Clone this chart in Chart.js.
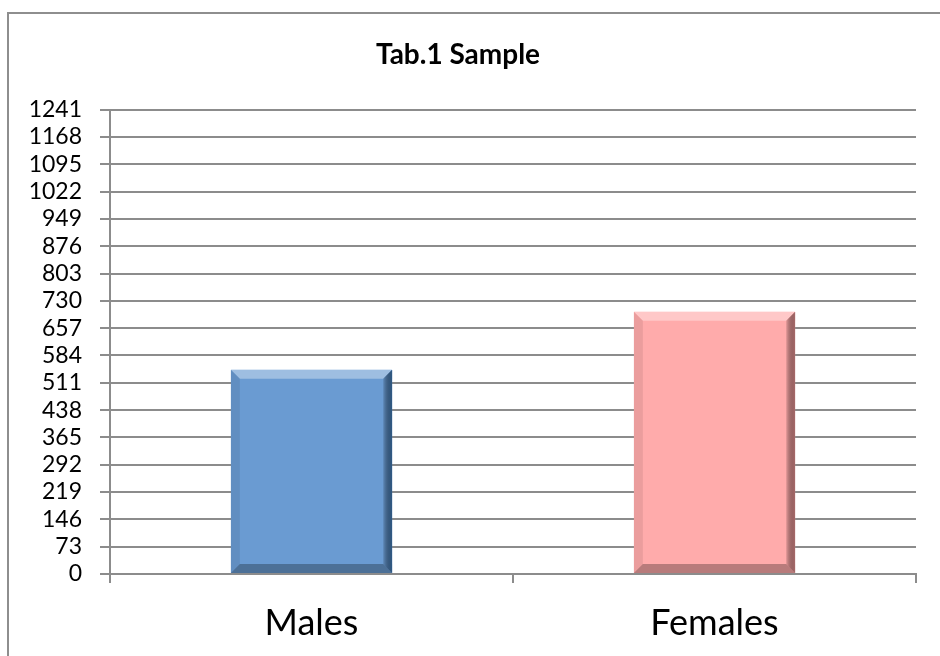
<!DOCTYPE html>
<html lang="en">
<head>
    <meta charset="UTF-8">
    <title>Tab.1 Sample</title>
    <script src="https://cdn.jsdelivr.net/npm/chart.js"></script>
    <style>
        html, body { margin: 0; padding: 0; background: #fff; }
        #wrap { position: relative; width: 940px; height: 656px; overflow: hidden; }
        #frame { position: absolute; left: 7px; top: 12px; width: 960px; height: 700px; border: 2px solid #8e8e8e; box-sizing: border-box; }
        canvas { position: absolute; left: 0; top: 0; }
    </style>
</head>
<body>
<div id="wrap">
    <div id="frame"></div>
    <canvas id="chart" width="940" height="656"></canvas>
</div>
<script>
    // data
    const categories = ['Males', 'Females'];
    const sampleCounts = [546, 701];
    const yMax = 1241;
    const yStep = 73;

    const fillColors = ['#6a9bd2', '#ffabab'];
    const edgeColors = ['#2f5a86', '#a86a6a'];

    // simple bevel look like the office chart
    const bevelPlugin = {
        id: 'bevel',
        afterDatasetsDraw(chart) {
            const ctx = chart.ctx;
            const meta = chart.getDatasetMeta(0);
            meta.data.forEach((bar, i) => {
                const p = bar.getProps(['x', 'y', 'base', 'width'], true);
                const l = p.x - p.width / 2, r = p.x + p.width / 2;
                const t = p.y, b = p.base;
                const s = 9;
                ctx.save();
                // top light edge
                ctx.fillStyle = 'rgba(255,255,255,0.35)';
                ctx.beginPath();
                ctx.moveTo(l, t); ctx.lineTo(r, t); ctx.lineTo(r - s, t + s); ctx.lineTo(l + s, t + s);
                ctx.closePath(); ctx.fill();
                // left edge
                ctx.fillStyle = 'rgba(0,0,0,0.08)';
                ctx.beginPath();
                ctx.moveTo(l, t); ctx.lineTo(l + s, t + s); ctx.lineTo(l + s, b - s); ctx.lineTo(l, b);
                ctx.closePath(); ctx.fill();
                // right dark edge
                const g = ctx.createLinearGradient(r - s, 0, r, 0);
                g.addColorStop(0, 'rgba(0,0,0,0.1)');
                g.addColorStop(1, edgeColors[i]);
                ctx.fillStyle = g;
                ctx.beginPath();
                ctx.moveTo(r, t); ctx.lineTo(r, b); ctx.lineTo(r - s, b - s); ctx.lineTo(r - s, t + s);
                ctx.closePath(); ctx.fill();
                // bottom dark edge
                ctx.fillStyle = 'rgba(0,0,0,0.28)';
                ctx.beginPath();
                ctx.moveTo(l, b); ctx.lineTo(r, b); ctx.lineTo(r - s, b - s); ctx.lineTo(l + s, b - s);
                ctx.closePath(); ctx.fill();
                ctx.restore();
            });
        }
    };

    const ctx = document.getElementById('chart').getContext('2d');
    const chart = new Chart(ctx, {
        type: 'bar',
        data: {
            labels: categories,
            datasets: [{
                label: 'Sample',
                data: sampleCounts,
                backgroundColor: fillColors,
                borderWidth: 0,
                barPercentage: 0.4,
                categoryPercentage: 1.0
            }]
        },
        options: {
            responsive: false,
            animation: false,
            layout: { padding: { left: 0, right: 24, top: 0, bottom: 0 } },
            plugins: {
                legend: { display: false },
                tooltip: { enabled: false },
                title: {
                    display: true,
                    text: 'Tab.1 Sample',
                    color: '#000',
                    font: { family: 'Lato', size: 28, weight: 'bold' },
                    padding: { top: 38, bottom: 38 }
                }
            },
            scales: {
                x: {
                    offset: true,
                    grid: {
                        display: true,
                        drawOnChartArea: false,
                        drawTicks: true,
                        tickLength: 9,
                        offset: true,
                        color: '#8c8c8c',
                        lineWidth: 2
                    },
                    border: { display: true, color: '#8c8c8c', width: 2 },
                    ticks: {
                        color: '#000',
                        font: { family: 'Lato', size: 36 },
                        padding: 19
                    },
                    afterFit(scale) { scale.height = 82; }
                },
                y: {
                    min: 0,
                    max: yMax,
                    grid: {
                        color: '#8c8c8c',
                        lineWidth: 2,
                        tickLength: 10
                    },
                    border: { display: true, color: '#8c8c8c', width: 2 },
                    ticks: {
                        stepSize: yStep,
                        autoSkip: false,
                        color: '#000',
                        font: { family: 'Lato', size: 23 },
                        padding: 18,
                        callback: (v) => String(v)
                    },
                    afterFit(scale) { scale.width = 110; }
                }
            }
        },
        plugins: [bevelPlugin]
    });
</script>
</body>
</html>
